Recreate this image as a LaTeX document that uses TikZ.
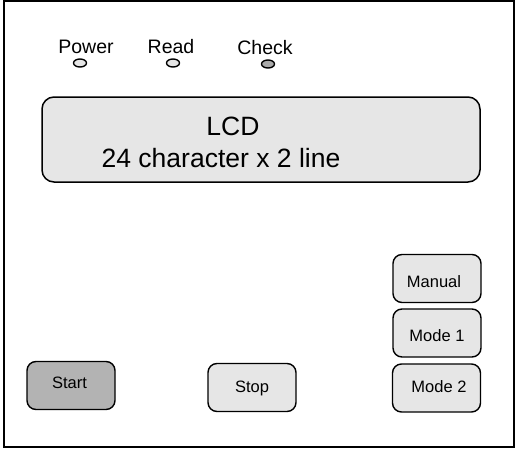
\documentclass[tikz,border=0pt]{standalone}
\usepackage{fontspec}
\setmainfont{Liberation Sans}
\usepackage{tikz}
\usetikzlibrary{positioning,shapes.geometric}
\definecolor{panelgray}{RGB}{230,230,230}
\definecolor{darkgray}{RGB}{179,179,179}
\definecolor{ledgray}{RGB}{170,170,170}

\tikzset{
  button/.style={draw,line width=1.4pt,rounded corners=9pt,fill=panelgray,
    minimum width=88pt,minimum height=48pt,inner sep=0pt},
  led/.style={draw,line width=1.4pt,ellipse,fill=panelgray,
    minimum width=13pt,minimum height=8pt,inner sep=0pt},
  lbl/.style={inner sep=0pt,font=\fontsize{19.5}{22}\selectfont},
  btnlbl/.style={inner sep=0pt,font=\fontsize{16.5}{19}\selectfont},
  lcdlbl/.style={inner sep=0pt,font=\fontsize{26.5}{30}\selectfont}
}

\begin{document}
\begin{tikzpicture}[x=1pt,y=-1pt]
\useasboundingbox (0,0) rectangle (523,451);
% Frame
\draw[line width=2pt] (3.5,1.2) rectangle (513.5,447);

% Indicator lights
\node[lbl] (power) at (86,47) {Power};
\node[lbl] (read) at (171,47) {Read};
\node[lbl] (check) at (265,48) {Check};
\node[led] (powerled) at (80,63) {};
\node[led] (readled) at (173,63) {};
\node[led,fill=ledgray] (checkled) at (268,64) {};

% LCD
\node[draw,line width=1.5pt,rounded corners=12pt,fill=panelgray,
  minimum width=438pt,minimum height=85pt] (lcd) at (261,139.5) {};
\node[lcdlbl] (lcdtitle) at (233,126) {LCD};
\node[lcdlbl] (lcdsize) at (221,158) {24 character x 2 line};

% Buttons
\node[button] (manual) at (437,278.5) {};
\node[button] (mode1) at (437,333) {};
\node[button] (mode2) at (436.5,388) {};
\node[button,fill=darkgray] (start) at (71,385.5) {};
\node[button] (stop) at (252,387.5) {};
\node[btnlbl] (manuallbl) at (434,282) {Manual};
\node[btnlbl] (mode1lbl) at (437,336) {Mode 1};
\node[btnlbl] (mode2lbl) at (439,387) {Mode 2};
\node[btnlbl] (startlbl) at (69.5,383) {Start};
\node[btnlbl] (stoplbl) at (252,388) {Stop};
\end{tikzpicture}
\end{document}
